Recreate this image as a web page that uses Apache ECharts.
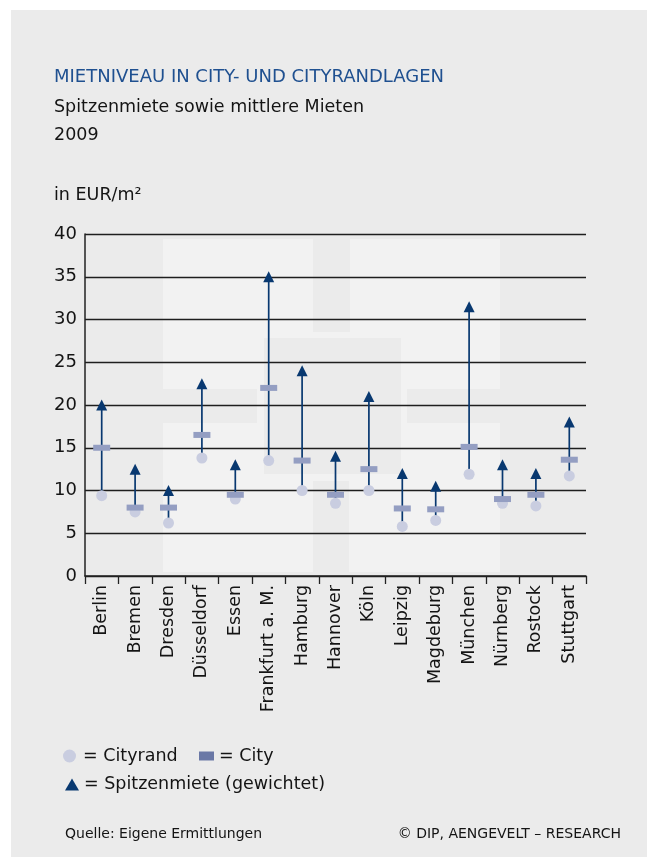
<!DOCTYPE html>
<html>
<head>
<meta charset="utf-8">
<script src="https://cdn.jsdelivr.net/npm/echarts@6/dist/echarts.min.js"></script>
<style>
html,body{margin:0;padding:0;background:#fff;}
#chart{width:647px;height:857px;}
</style>
</head>
<body>
<div id="chart"></div>
<script>
const categories = ['Berlin','Bremen','Dresden','Düsseldorf','Essen','Frankfurt a. M.','Hamburg','Hannover','Köln','Leipzig','Magdeburg','München','Nürnberg','Rostock','Stuttgart'];
const spitzenmiete = [20, 12.5, 10, 22.5, 13, 35, 24, 14, 21, 12, 10.5, 31.5, 13, 12, 18];
const city = [15, 8, 8, 16.5, 9.5, 22, 13.5, 9.5, 12.5, 7.9, 7.8, 15.1, 9, 9.5, 13.6];
const cityrand = [9.4, 7.5, 6.2, 13.8, 9, 13.5, 10, 8.5, 10, 5.8, 6.5, 11.9, 8.5, 8.2, 11.7];
const yTicks = { min: 0, max: 40, interval: 5 };

const FONT = '"DejaVu Sans", sans-serif';
const TXT = '#141414';
const NAVY = '#083870';

const chart = echarts.init(document.getElementById('chart'), null, { renderer: 'canvas' });

const bgRect = (x, y, w, h, fill) => ({ type: 'rect', z: -100, silent: true, shape: { x, y, width: w, height: h }, style: { fill } });
const txt = (text, x, y, size, fill, align) => ({
  type: 'text', z: 10, silent: true,
  style: { text, x, y, font: size + 'px ' + FONT, fill, align: align || 'left', verticalAlign: 'middle' }
});

const rangeData = categories.map((c, i) => [i, cityrand[i], spitzenmiete[i]]);

const legendBase = {
  orient: 'horizontal', padding: 0, selectedMode: false,
  textStyle: { fontFamily: FONT, fontSize: 17.5, color: TXT },
  formatter: name => '= ' + name
};

chart.setOption({
  backgroundColor: '#ffffff',
  animation: false,
  graphic: [
    bgRect(11, 10, 636, 847, '#ebebeb'),
    bgRect(163, 239, 337, 333, '#f2f2f2'),
    bgRect(313, 239, 37, 93, '#ebebeb'),
    bgRect(264, 338, 137, 136, '#ebebeb'),
    bgRect(163, 389, 94, 34, '#ebebeb'),
    bgRect(407, 389, 93, 34, '#ebebeb'),
    bgRect(313, 481, 36, 91, '#ebebeb'),
    txt('MIETNIVEAU IN CITY- UND CITYRANDLAGEN', 54, 77, 18, '#1f5090'),
    txt('Spitzenmiete sowie mittlere Mieten', 54, 107, 17.5, TXT),
    txt('2009', 54, 135, 17.5, TXT),
    txt('in EUR/m²', 54, 195, 17.5, TXT),
    txt('Quelle: Eigene Ermittlungen', 65, 834, 14, TXT),
    txt('© DIP, AENGEVELT – RESEARCH', 621, 834, 14, TXT, 'right')
  ],
  legend: [
    Object.assign({}, legendBase, { left: 63, top: 747, itemWidth: 17, itemHeight: 13,
      data: [{ name: 'Cityrand', icon: 'circle' }] }),
    Object.assign({}, legendBase, { left: 199, top: 747, itemWidth: 15, itemHeight: 9,
      data: [{ name: 'City', icon: 'rect', itemStyle: { color: '#6a78a6', opacity: 1 } }] }),
    Object.assign({}, legendBase, { left: 65, top: 775.5, itemWidth: 14, itemHeight: 12,
      data: [{ name: 'Spitzenmiete (gewichtet)', icon: 'triangle' }] })
  ],
  grid: { left: 85, right: 61, top: 234, bottom: 281, containLabel: false },
  xAxis: {
    type: 'category', data: categories, boundaryGap: true,
    axisLine: { show: true, lineStyle: { color: '#222', width: 1.5 } },
    axisTick: { show: true, length: 8, lineStyle: { color: '#222', width: 1.3 } },
    axisLabel: { rotate: 90, interval: 0, margin: 9, fontFamily: FONT, fontSize: 17.5, color: TXT },
    splitLine: { show: false }
  },
  yAxis: {
    type: 'value', min: yTicks.min, max: yTicks.max, interval: yTicks.interval,
    axisLine: { show: true, lineStyle: { color: '#222', width: 1.5 } },
    axisTick: { show: false },
    axisLabel: { margin: 8, fontFamily: FONT, fontSize: 18, color: TXT },
    splitLine: { show: true, lineStyle: { color: '#1e1e1e', width: 1.3 } }
  },
  series: [
    {
      name: 'range', type: 'custom', z: 2, silent: true,
      data: rangeData,
      encode: { x: 0, y: [1, 2] },
      renderItem: (params, api) => {
        const p1 = api.coord([api.value(0), api.value(1)]);
        const p2 = api.coord([api.value(0), api.value(2)]);
        return { type: 'line', shape: { x1: p1[0], y1: p1[1], x2: p2[0], y2: p2[1] },
          style: { stroke: NAVY, lineWidth: 1.7 } };
      }
    },
    {
      name: 'Cityrand', type: 'scatter', z: 3, symbol: 'circle', symbolSize: 11,
      itemStyle: { color: '#c9cde0', opacity: 1 },
      data: cityrand.map((v, i) => [i, v])
    },
    {
      name: 'City', type: 'scatter', z: 4, symbol: 'rect', symbolSize: [17, 6],
      itemStyle: { color: '#949ec2', opacity: 1 },
      data: city.map((v, i) => [i, v])
    },
    {
      name: 'Spitzenmiete (gewichtet)', type: 'scatter', z: 5, symbol: 'triangle', symbolSize: [11, 11],
      itemStyle: { color: NAVY, opacity: 1 },
      data: spitzenmiete.map((v, i) => [i, v])
    }
  ]
});
</script>
</body>
</html>
